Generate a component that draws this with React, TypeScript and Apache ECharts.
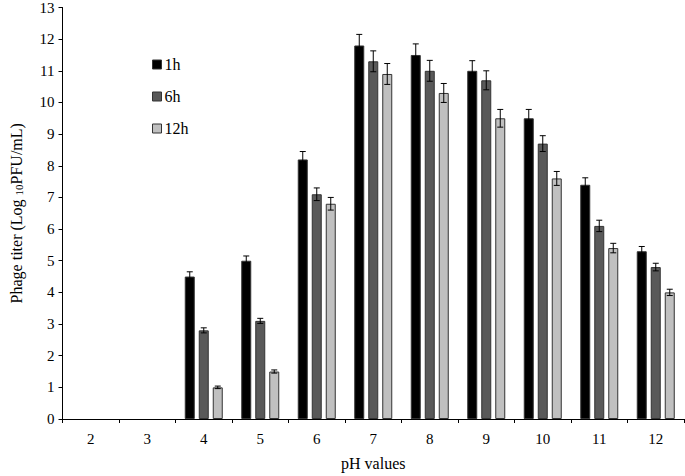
import React, { useEffect, useRef } from "react";
import * as echarts from "echarts";

const categories = ["2", "3", "4", "5", "6", "7", "8", "9", "10", "11", "12"];
const seriesNames = ["1h", "6h", "12h"];
const values1h = [null, null, 4.5, 5.0, 8.2, 11.8, 11.5, 11.0, 9.5, 7.4, 5.3];
const values6h = [null, null, 2.8, 3.1, 7.1, 11.3, 11.0, 10.7, 8.7, 6.1, 4.8];
const values12h = [null, null, 1.0, 1.5, 6.8, 10.9, 10.3, 9.5, 7.6, 5.4, 4.0];
const err1h = [null, null, 0.15, 0.15, 0.25, 0.35, 0.35, 0.32, 0.28, 0.22, 0.15];
const err6h = [null, null, 0.08, 0.08, 0.2, 0.33, 0.33, 0.3, 0.25, 0.18, 0.12];
const err12h = [null, null, 0.04, 0.05, 0.2, 0.33, 0.3, 0.28, 0.22, 0.15, 0.1];
const colors = ["#000000", "#595959", "#c0c0c0"];

const FONT = "'Liberation Serif', 'Times New Roman', Times, serif";
const BAR_W = 10;
const BAR_STEP = 14;

export default function App() {
  const ref = useRef<HTMLDivElement>(null);
  useEffect(() => {
    if (!ref.current) return;
    const chart = echarts.init(ref.current, null, { renderer: "svg" });
    const vals = [values1h, values6h, values12h];
    const errs = [err1h, err6h, err12h];
    const barSeries = vals.map((v, i) => ({
      name: seriesNames[i],
      type: "bar",
      data: v,
      barWidth: BAR_W,
      barGap: "40%",
      itemStyle: { color: colors[i], borderColor: "#333", borderWidth: 1 },
    }));
    const errSeries = vals.map((v, i) => {
      const data: any[] = [];
      v.forEach((val, ci) => {
        if (val != null && errs[i][ci] != null) {
          data.push([ci, val - (errs[i][ci] as number), val + (errs[i][ci] as number)]);
        }
      });
      const offset = (i - 1) * BAR_STEP;
      return {
        type: "custom",
        name: "err" + i,
        data,
        encode: { x: 0, y: [1, 2] },
        z: 10,
        silent: true,
        renderItem: (params: any, api: any) => {
          const ci = api.value(0);
          const lo = api.coord([ci, api.value(1)]);
          const hi = api.coord([ci, api.value(2)]);
          const x = lo[0] + offset;
          const hw = 3;
          const style = { stroke: "#000", lineWidth: 1, fill: "none" };
          return {
            type: "group",
            children: [
              { type: "line", shape: { x1: x, y1: lo[1], x2: x, y2: hi[1] }, style },
              { type: "line", shape: { x1: x - hw, y1: hi[1], x2: x + hw, y2: hi[1] }, style },
              { type: "line", shape: { x1: x - hw, y1: lo[1], x2: x + hw, y2: lo[1] }, style },
            ],
          };
        },
      };
    });
    chart.setOption({
      animation: false,
      textStyle: { fontFamily: FONT },
      grid: { left: 57, right: 1, top: 7, bottom: 56, containLabel: false },
      legend: {
        data: seriesNames,
        orient: "vertical",
        left: 147,
        top: 51,
        itemWidth: 9,
        itemHeight: 9,
        itemGap: 15,
        icon: "rect",
        textStyle: { fontFamily: FONT, fontSize: 16, color: "#000", lineHeight: 17, padding: [0, 0, 0, -2] },
        itemStyle: { borderColor: "#333", borderWidth: 1 },
      },
      xAxis: {
        type: "category",
        data: categories,
        name: "pH values",
        nameLocation: "middle",
        nameGap: 36,
        nameTextStyle: { fontFamily: FONT, fontSize: 16, color: "#000" },
        axisLine: { lineStyle: { color: "#000", width: 1 } },
        axisTick: { show: true, length: 4, lineStyle: { color: "#000" } },
        axisLabel: { fontFamily: FONT, fontSize: 15, color: "#000", margin: 12 },
      },
      yAxis: {
        type: "value",
        min: 0,
        max: 13,
        interval: 1,
        name: "{n|Phage titer (Log }{s|10}{n|PFU/mL)}",
        nameLocation: "middle",
        nameGap: 38,
        nameTextStyle: {
          rich: {
            n: { fontFamily: FONT, fontSize: 16, color: "#000" },
            s: { fontFamily: FONT, fontSize: 11, color: "#000", verticalAlign: "bottom", padding: [6, 0, 0, 0] },
          },
        },
        splitLine: { show: false },
        axisLine: { show: true, lineStyle: { color: "#000", width: 1 } },
        axisTick: { show: true, length: 4, lineStyle: { color: "#000" } },
        axisLabel: { fontFamily: FONT, fontSize: 15, color: "#000", margin: 8 },
      },
      series: [...barSeries, ...errSeries],
    });
    return () => chart.dispose();
  }, []);
  return <div ref={ref} style={{ width: 685, height: 476, position: "absolute", left: 0, top: 0 }} />;
}
